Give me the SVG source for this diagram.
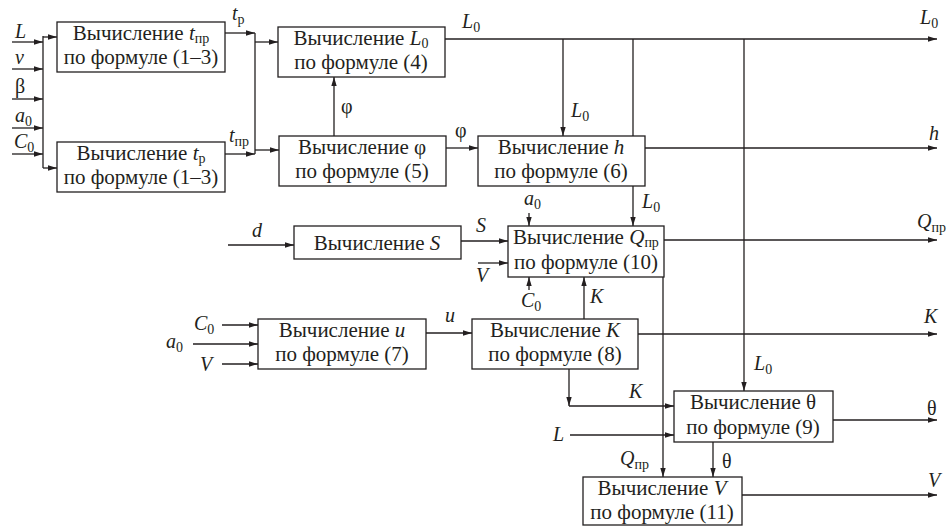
<svg xmlns="http://www.w3.org/2000/svg" width="950" height="526" viewBox="0 0 950 526" font-family="Liberation Serif, DejaVu Serif, serif" font-size="21">
<style>
.b{fill:#fff;stroke:#231f20;stroke-width:1.3}
.c{fill:none;stroke:#231f20;stroke-width:1.3}
.a{marker-end:url(#ar)}
text{fill:#231f20}
.t{text-anchor:middle}
.i{font-style:italic}
.s{font-size:14px}
</style>
<defs>
<marker id="ar" viewBox="0 0 10 6" refX="10" refY="3" markerWidth="9" markerHeight="6" orient="auto" markerUnits="userSpaceOnUse"><path d="M0,0 L10,3 L0,6 z" fill="#231f20"/></marker>
</defs>
<rect width="950" height="526" fill="#fff"/>
<g id="connectors">
<path class="c a" d="M12,42 H43"/>
<path class="c a" d="M12,69 H43"/>
<path class="c a" d="M12,99 H43"/>
<path class="c a" d="M12,128 H43"/>
<path class="c a" d="M12,154 H43"/>
<path class="c" d="M43,36 V168"/>
<path class="c a" d="M43,37 H57"/>
<path class="c a" d="M43,168 H57"/>
<path class="c a" d="M225,33 H255"/>
<path class="c a" d="M225,154 H255"/>
<path class="c" d="M255,33 V154"/>
<path class="c a" d="M255,42 H278"/>
<path class="c a" d="M255,150 H279"/>
<path class="c a" d="M334,136 V77"/>
<path class="c a" d="M446,148 H478"/>
<path class="c a" d="M445,39 H937"/>
<path class="c a" d="M563,39 V136"/>
<path class="c" d="M633,39 V136"/>
<path class="c a" d="M633,186 V226"/>
<path class="c a" d="M744,39 V391"/>
<path class="c a" d="M645,148 H937"/>
<path class="c a" d="M228,245 H294"/>
<path class="c a" d="M461,241 H508"/>
<path class="c a" d="M478,263 H508"/>
<path class="c a" d="M529,213 V226"/>
<path class="c a" d="M529,290 V277"/>
<path class="c a" d="M584,319 V277"/>
<path class="c a" d="M664,240 H937"/>
<path class="c a" d="M663,277 V477"/>
<path class="c a" d="M222,325 H258"/>
<path class="c a" d="M193,344 H258"/>
<path class="c a" d="M222,364 H258"/>
<path class="c a" d="M426,333 H472"/>
<path class="c a" d="M638,334 H937"/>
<path class="c a" d="M569,369 V406"/>
<path class="c a" d="M569,406 H674"/>
<path class="c a" d="M570,435 H674"/>
<path class="c a" d="M833,420 H937"/>
<path class="c a" d="M713,442 V477"/>
<path class="c a" d="M742,495 H937"/>
</g>
<g id="labels" font-size="20">
<text x="15" y="38" class="i">L</text>
<text x="15" y="64" class="i">v</text>
<text x="15" y="93">β</text>
<text x="15" y="122"><tspan class="i">a</tspan><tspan class="s" dy="4">0</tspan></text>
<text x="14" y="148"><tspan class="i">C</tspan><tspan class="s" dy="4">0</tspan></text>
<text x="232" y="20"><tspan class="i">t</tspan><tspan class="s" dy="4">р</tspan></text>
<text x="229" y="142"><tspan class="i">t</tspan><tspan class="s" dy="4">пр</tspan></text>
<text x="341" y="113">φ</text>
<text x="455" y="137">φ</text>
<text x="462" y="28"><tspan class="i">L</tspan><tspan class="s" dy="4">0</tspan></text>
<text x="920" y="24"><tspan class="i">L</tspan><tspan class="s" dy="4">0</tspan></text>
<text x="571" y="117"><tspan class="i">L</tspan><tspan class="s" dy="4">0</tspan></text>
<text x="929" y="140" class="i">h</text>
<text x="252" y="237" class="i">d</text>
<text x="476" y="232" class="i">S</text>
<text x="476" y="282" class="i">V</text>
<text x="524" y="205"><tspan class="i">a</tspan><tspan class="s" dy="4">0</tspan></text>
<text x="642" y="208"><tspan class="i">L</tspan><tspan class="s" dy="4">0</tspan></text>
<text x="521" y="307"><tspan class="i">C</tspan><tspan class="s" dy="4">0</tspan></text>
<text x="590" y="303" class="i">K</text>
<text x="917" y="228"><tspan class="i">Q</tspan><tspan class="s" dy="4">пр</tspan></text>
<text x="924" y="323" class="i">K</text>
<text x="194" y="330"><tspan class="i">C</tspan><tspan class="s" dy="4">0</tspan></text>
<text x="166" y="348"><tspan class="i">a</tspan><tspan class="s" dy="4">0</tspan></text>
<text x="200" y="371" class="i">V</text>
<text x="445" y="322" class="i">u</text>
<text x="754" y="370"><tspan class="i">L</tspan><tspan class="s" dy="4">0</tspan></text>
<text x="629" y="398" class="i">K</text>
<text x="553" y="441" class="i">L</text>
<text x="620" y="465"><tspan class="i">Q</tspan><tspan class="s" dy="4">пр</tspan></text>
<text x="927" y="415">θ</text>
<text x="722" y="468">θ</text>
<text x="928" y="487" class="i">V</text>
</g>
<g id="n1"><rect class="b" x="57" y="22" width="168" height="50"/>
<text x="141" y="40" class="t">Вычисление <tspan class="i">t</tspan><tspan class="s" dy="3">пр</tspan></text>
<text x="141" y="64" class="t">по формуле (1–3)</text></g>
<g id="n2"><rect class="b" x="57" y="142" width="168" height="50"/>
<text x="141" y="160" class="t">Вычисление <tspan class="i">t</tspan><tspan class="s" dy="3">р</tspan></text>
<text x="141" y="184" class="t">по формуле (1–3)</text></g>
<g id="n3"><rect class="b" x="278" y="27" width="167" height="50"/>
<text x="361" y="45" class="t">Вычисление <tspan class="i">L</tspan><tspan class="s" dy="3">0</tspan></text>
<text x="361" y="69" class="t">по формуле (4)</text></g>
<g id="n4"><rect class="b" x="279" y="136" width="167" height="50"/>
<text x="362" y="154" class="t">Вычисление φ</text>
<text x="362" y="178" class="t">по формуле (5)</text></g>
<g id="n5"><rect class="b" x="478" y="136" width="167" height="50"/>
<text x="561" y="154" class="t">Вычисление <tspan class="i">h</tspan></text>
<text x="561" y="178" class="t">по формуле (6)</text></g>
<g id="n6"><rect class="b" x="294" y="226" width="167" height="33"/>
<text x="377" y="250" class="t">Вычисление <tspan class="i">S</tspan></text></g>
<g id="n7"><rect class="b" x="508" y="226" width="156" height="51"/>
<text x="586" y="244" class="t">Вычисление <tspan class="i">Q</tspan><tspan class="s" dy="3">пр</tspan></text>
<text x="586" y="269" class="t">по формуле (10)</text></g>
<g id="n8"><rect class="b" x="258" y="319" width="168" height="50"/>
<text x="342" y="337" class="t">Вычисление <tspan class="i">u</tspan></text>
<text x="342" y="361" class="t">по формуле (7)</text></g>
<g id="n9"><rect class="b" x="472" y="319" width="166" height="50"/>
<text x="555" y="337" class="t">Вычисление <tspan class="i">K</tspan></text>
<text x="555" y="361" class="t">по формуле (8)</text></g>
<g id="n10"><rect class="b" x="674" y="391" width="159" height="51"/>
<text x="753" y="409" class="t">Вычисление θ</text>
<text x="753" y="434" class="t">по формуле (9)</text></g>
<g id="n11"><rect class="b" x="583" y="477" width="159" height="48"/>
<text x="662" y="495" class="t">Вычисление <tspan class="i">V</tspan></text>
<text x="662" y="519" class="t">по формуле (11)</text></g>
</svg>
